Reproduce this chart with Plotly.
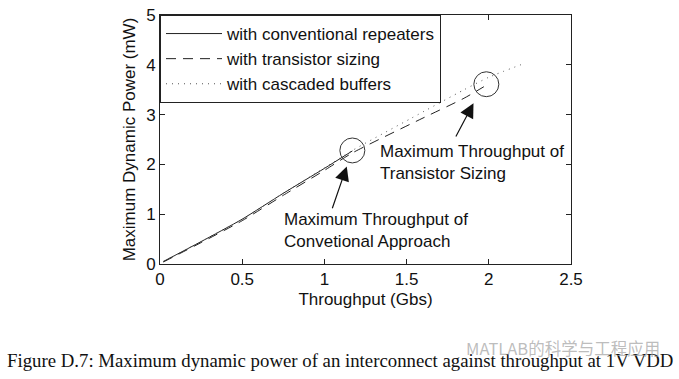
import plotly.graph_objects as go

# Data
conv_x = [0.02, 0.25, 0.5, 0.75, 1.0, 1.17]
conv_y = [0.05, 0.45, 0.90, 1.42, 1.92, 2.27]

sizing_x = [0.02, 0.25, 0.5, 0.75, 1.0, 1.17, 1.58, 1.85, 1.97]
sizing_y = [0.04, 0.43, 0.87, 1.38, 1.88, 2.23, 2.90, 3.33, 3.56]

casc_x = [0.02, 0.25, 0.5, 0.75, 1.0, 1.17, 1.53, 1.85, 2.0, 2.21]
casc_y = [0.05, 0.45, 0.90, 1.42, 1.93, 2.28, 2.93, 3.50, 3.75, 4.02]

legend_names = ["with conventional repeaters", "with transistor sizing", "with cascaded buffers"]
x_ticks = [0, 0.5, 1, 1.5, 2, 2.5]
x_tick_labels = ["0", "0.5", "1", "1.5", "2", "2.5"]
y_ticks = [0, 1, 2, 3, 4, 5]
y_tick_labels = ["0", "1", "2", "3", "4", "5"]

note_conv = "Maximum Throughput of<br>Convetional Approach"
note_sizing = "Maximum Throughput of<br>Transistor Sizing"
caption = "Figure D.7: Maximum dynamic power of an interconnect against throughput at 1V VDD"
watermark = "MATLAB的科学与工程应用"

FONT = "Liberation Sans, Arial, sans-serif"
FS = 17

# plot-area pixel geometry
L, R, T, B = 160, 108, 15, 115
PW, PH = 679 - L - R, 379 - T - B


def px(xp):
    return (xp - L) / PW


def py(yp):
    return (379 - B - yp) / PH


fig = go.Figure()
fig.add_trace(go.Scatter(x=conv_x, y=conv_y, mode="lines", name=legend_names[0],
                         line=dict(color="#222222", width=1, shape="spline", smoothing=0.6)))
fig.add_trace(go.Scatter(x=sizing_x, y=sizing_y, mode="lines", name=legend_names[1],
                         line=dict(color="#222222", width=1, dash="10px,7px", shape="spline", smoothing=0.6)))
fig.add_trace(go.Scatter(x=casc_x, y=casc_y, mode="lines", name=legend_names[2],
                         line=dict(color="#555555", width=1, dash="1px,5px", shape="spline", smoothing=0.6)))

# circles around max-throughput points (ends of series)
rx, ry = 0.076, 0.25
for cx, cy in [(conv_x[-1], conv_y[-1] + 0.01), (sizing_x[-1] + 0.015, sizing_y[-1] + 0.05)]:
    fig.add_shape(type="circle", xref="x", yref="y", x0=cx - rx, x1=cx + rx,
                  y0=cy - ry, y1=cy + ry, line=dict(color="#333333", width=1))

# arrows
fig.add_annotation(x=1.136, y=1.96, ax=1.045, ay=1.09, xref="x", yref="y", axref="x", ayref="y",
                   text="", showarrow=True, arrowhead=2, arrowsize=2.4, arrowwidth=1.2,
                   arrowcolor="#111111")
fig.add_annotation(x=1.907, y=3.23, ax=1.795, ay=2.53, xref="x", yref="y", axref="x", ayref="y",
                   text="", showarrow=True, arrowhead=2, arrowsize=2.4, arrowwidth=1.2,
                   arrowcolor="#111111")

fig.add_annotation(x=0.74, y=0.68, xref="x", yref="y", text=note_conv, showarrow=False,
                   xanchor="left", yanchor="middle", align="left",
                   font=dict(family=FONT, size=FS, color="#111111"))
fig.add_annotation(x=1.327, y=2.03, xref="x", yref="y", text=note_sizing, showarrow=False,
                   xanchor="left", yanchor="middle", align="left",
                   font=dict(family=FONT, size=FS, color="#111111"))

fig.add_annotation(x=px(5), y=py(360), xref="paper", yref="paper", text=caption, showarrow=False,
                   font=dict(family="Liberation Serif, Times New Roman, serif", size=18.8, color="#111111"),
                   xanchor="left", yanchor="middle")
fig.add_annotation(x=px(464), y=py(348), xref="paper", yref="paper",
                   text=watermark, showarrow=False, xanchor="left", yanchor="middle",
                   font=dict(family="Noto Sans CJK SC", size=16.5, color="rgba(160,160,160,0.7)"))

fig.update_layout(
    width=679, height=379,
    margin=dict(l=L, r=R, t=T, b=B, autoexpand=False),
    paper_bgcolor="white", plot_bgcolor="white",
    font=dict(family=FONT, size=FS, color="#111111"),
    showlegend=True,
    legend=dict(x=0, y=1, xanchor="left", yanchor="top", bgcolor="white",
                bordercolor="#222222", borderwidth=1, font=dict(size=FS),
                itemwidth=56, tracegroupgap=0),
    xaxis=dict(range=[0, 2.5], tickvals=x_ticks, ticktext=x_tick_labels, automargin=False,
               showgrid=False, zeroline=False, showline=True, linecolor="#222222", linewidth=1,
               mirror="ticks", ticks="inside", ticklen=5, tickcolor="#222222",
               tickfont=dict(size=FS),
               title=dict(text="Throughput (Gbs)", standoff=4, font=dict(size=FS))),
    yaxis=dict(range=[0, 5], tickvals=y_ticks, ticktext=y_tick_labels, automargin=False,
               showgrid=False, zeroline=False, showline=True, linecolor="#222222", linewidth=1,
               mirror="ticks", ticks="inside", ticklen=5, tickcolor="#222222",
               tickfont=dict(size=FS),
               title=dict(text="Maximum Dynamic Power (mW)", standoff=6, font=dict(size=FS))),
)

fig.write_html("out.html", post_script="document.body.style.margin='0';",
               config={"displayModeBar": False})
